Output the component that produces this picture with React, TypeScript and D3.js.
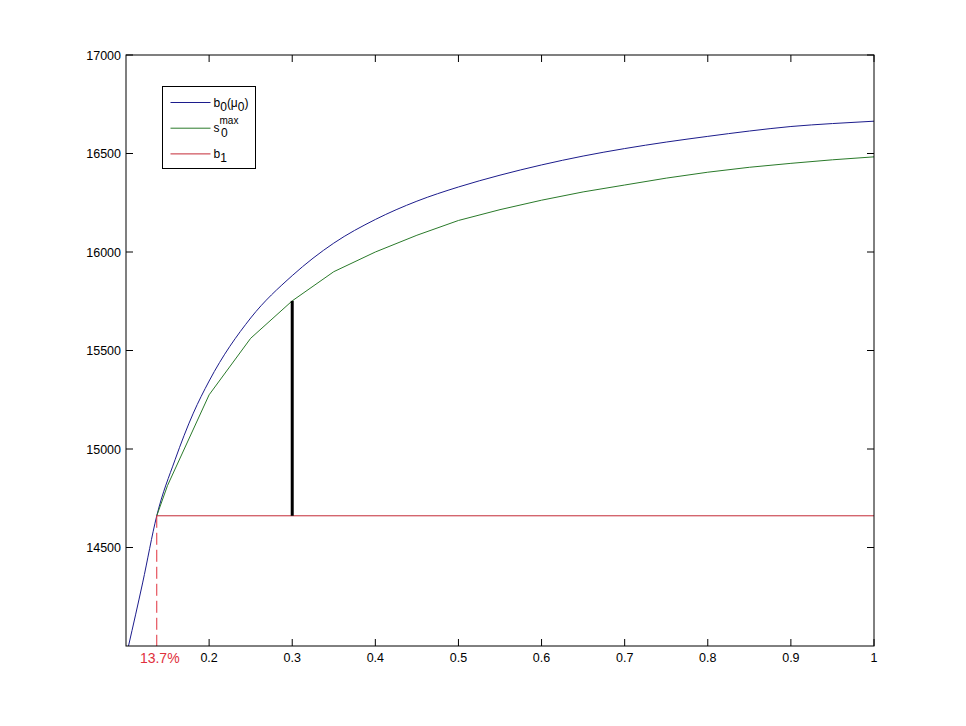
import React, { useRef, useEffect } from "react";
import * as d3 from "d3";

// b0(mu0) curve
const blueX = [0.103, 0.12, 0.137, 0.159, 0.181, 0.2, 0.25, 0.3, 0.35, 0.4, 0.45, 0.5, 0.55, 0.6, 0.65, 0.7, 0.75, 0.8, 0.85, 0.9, 0.95, 1.0];
const blueY = [14000, 14320, 14661, 14945, 15182, 15345, 15665, 15880, 16045, 16165, 16258, 16330, 16390, 16442, 16487, 16525, 16558, 16587, 16614, 16637, 16652, 16664];

// s0max curve
const greenX = [0.137, 0.15, 0.2, 0.25, 0.3, 0.35, 0.4, 0.45, 0.5, 0.55, 0.6, 0.65, 0.7, 0.75, 0.8, 0.85, 0.9, 0.95, 1.0];
const greenY = [14661, 14815, 15275, 15562, 15752, 15900, 16000, 16085, 16160, 16215, 16263, 16305, 16340, 16375, 16405, 16430, 16450, 16468, 16483];

// b1 level and markers
const b1 = 14661;
const crossX = 0.137;
const crossLabel = "13.7%";
const gapX = 0.3;
const gapTop = 15752;

const xTicks = [0.2, 0.3, 0.4, 0.5, 0.6, 0.7, 0.8, 0.9, 1];
const yTicks = [14500, 15000, 15500, 16000, 16500, 17000];

const legendItems = [
  { color: "#1c1c8c", base: "b", sub: "0", rest: "(μ", sub2: "0", close: ")" },
  { color: "#2a7a2a", base: "s", sub: "0", sup: "max" },
  { color: "#c42a36", base: "b", sub: "1" },
];

const W = 966;
const H = 726;
const margin = { top: 55, right: 92, bottom: 80, left: 126 };

const App = () => {
  const svgRef = useRef<SVGSVGElement>(null);

  useEffect(() => {
    const svg = d3.select(svgRef.current);
    svg.selectAll("*").remove();

    const x = d3.scaleLinear().domain([0.1, 1]).range([margin.left, W - margin.right]);
    const y = d3.scaleLinear().domain([14000, 17000]).range([H - margin.bottom, margin.top]);
    const font = "'Liberation Sans', Arial, sans-serif";

    svg.append("rect").attr("width", W).attr("height", H).attr("fill", "#fff");

    svg.append("defs").append("clipPath").attr("id", "plotclip")
      .append("rect")
      .attr("x", x(0.1)).attr("y", y(17000))
      .attr("width", x(1) - x(0.1)).attr("height", y(14000) - y(17000));

    const plot = svg.append("g").attr("clip-path", "url(#plotclip)");

    const blue = blueX.map((v, i) => [v, blueY[i]] as [number, number]);
    const green = greenX.map((v, i) => [v, greenY[i]] as [number, number]);

    plot.append("path")
      .datum(blue)
      .attr("fill", "none")
      .attr("stroke", "#1c1c8c")
      .attr("stroke-width", 1)
      .attr("d", d3.line().curve(d3.curveMonotoneX).x((d) => x(d[0])).y((d) => y(d[1])));

    plot.append("path")
      .datum(green)
      .attr("fill", "none")
      .attr("stroke", "#2a7a2a")
      .attr("stroke-width", 1)
      .attr("d", d3.line().x((d) => x(d[0])).y((d) => y(d[1])));

    plot.append("line")
      .attr("x1", x(crossX)).attr("x2", x(1))
      .attr("y1", y(b1)).attr("y2", y(b1))
      .attr("stroke", "#c42a36").attr("stroke-width", 1);

    plot.append("line")
      .attr("x1", x(crossX)).attr("x2", x(crossX))
      .attr("y1", y(b1)).attr("y2", y(14000))
      .attr("stroke", "#e0303c").attr("stroke-width", 1)
      .attr("stroke-dasharray", "12,5");

    plot.append("line")
      .attr("x1", x(gapX)).attr("x2", x(gapX))
      .attr("y1", y(b1)).attr("y2", y(gapTop))
      .attr("stroke", "#000").attr("stroke-width", 3);

    // axes box
    const x0 = x(0.1), x1 = x(1), y0 = y(14000), y1 = y(17000);
    svg.append("rect")
      .attr("x", x0).attr("y", y1)
      .attr("width", x1 - x0).attr("height", y0 - y1)
      .attr("fill", "none").attr("stroke", "#000").attr("stroke-width", 1);

    const tl = 7;
    xTicks.forEach((t) => {
      svg.append("line").attr("x1", x(t)).attr("x2", x(t)).attr("y1", y0).attr("y2", y0 - tl).attr("stroke", "#000");
      svg.append("line").attr("x1", x(t)).attr("x2", x(t)).attr("y1", y1).attr("y2", y1 + tl).attr("stroke", "#000");
      svg.append("text")
        .attr("x", x(t)).attr("y", y0 + 16)
        .attr("text-anchor", "middle")
        .attr("font-family", font).attr("font-size", 12.5)
        .text(d3.format("~g")(t));
    });

    yTicks.forEach((t) => {
      svg.append("line").attr("x1", x0).attr("x2", x0 + tl).attr("y1", y(t)).attr("y2", y(t)).attr("stroke", "#000");
      svg.append("line").attr("x1", x1).attr("x2", x1 - tl).attr("y1", y(t)).attr("y2", y(t)).attr("stroke", "#000");
      svg.append("text")
        .attr("x", x0 - 5).attr("y", y(t) + 4.5)
        .attr("text-anchor", "end")
        .attr("font-family", font).attr("font-size", 12.5)
        .text(t);
    });

    svg.append("text")
      .attr("x", x(crossX) + 3).attr("y", y0 + 16.5)
      .attr("text-anchor", "middle")
      .attr("font-family", font).attr("font-size", 14)
      .attr("fill", "#e0303c")
      .text(crossLabel);

    // legend
    const lg = svg.append("g").attr("transform", "translate(162.5,86.5)");
    lg.append("rect").attr("width", 93).attr("height", 82).attr("fill", "#fff").attr("stroke", "#000");
    legendItems.forEach((it, i) => {
      const cy = 16 + i * 25.7;
      lg.append("line").attr("x1", 8).attr("x2", 48).attr("y1", cy).attr("y2", cy).attr("stroke", it.color);
      const t = lg.append("text")
        .attr("x", 51).attr("y", cy + 4)
        .attr("font-family", font).attr("font-size", 12);
      t.append("tspan").text(it.base);
      if (it.sup) {
        t.append("tspan").attr("font-size", 10).attr("dy", -8).text(it.sup);
        t.append("tspan").attr("font-size", 12).attr("x", 58.5).attr("dy", 13).text(it.sub);
      } else {
        t.append("tspan").attr("dy", 4).text(it.sub);
        if (it.rest) {
          t.append("tspan").attr("dy", -4).text(it.rest);
          t.append("tspan").attr("dy", 4).text(it.sub2);
          t.append("tspan").attr("dy", -4).text(it.close);
        }
      }
    });
  }, []);

  return (
    <svg
      ref={svgRef}
      width={W}
      height={H}
      style={{ position: "absolute", left: 0, top: 0, display: "block" }}
    />
  );
};

export default App;
